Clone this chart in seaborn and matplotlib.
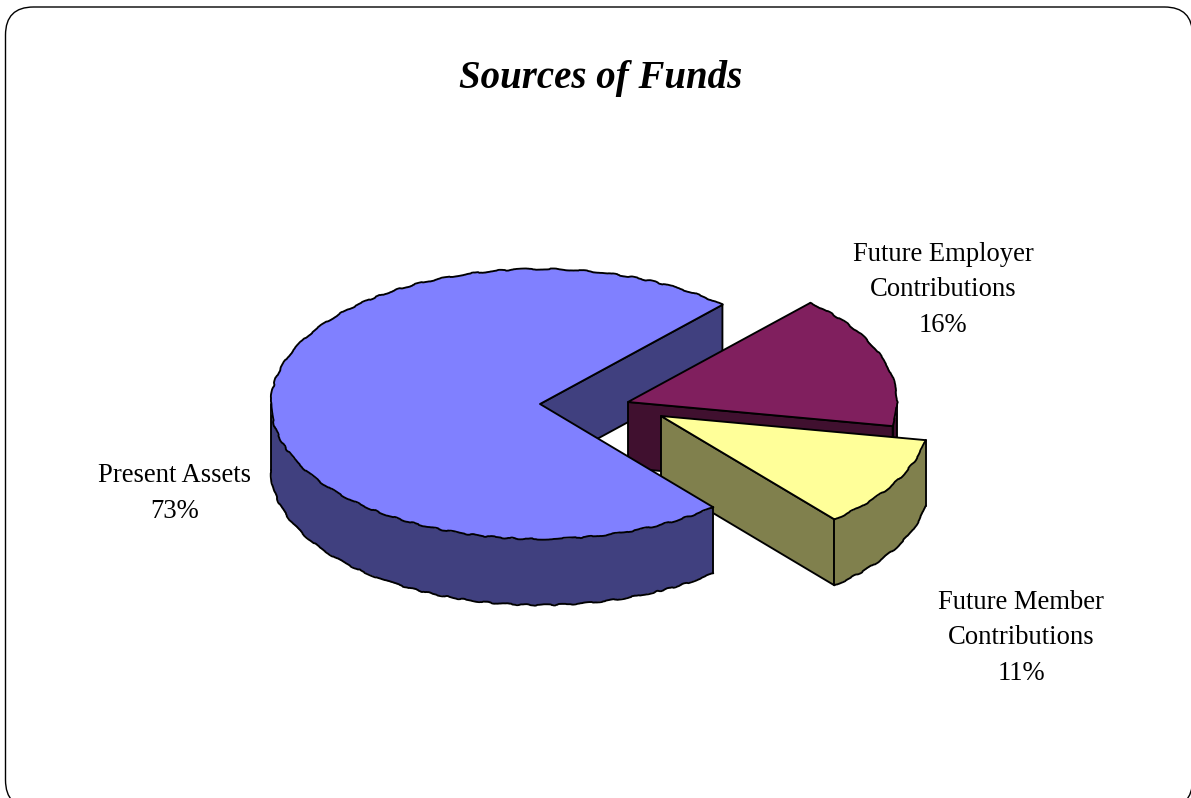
import numpy as np
import matplotlib
matplotlib.use("Agg")
import matplotlib.pyplot as plt
from matplotlib.patches import FancyBboxPatch
import seaborn as sns

# Funding shares, in percent, listed clockwise from the upper right
categories = ["Future Employer\nContributions", "Future Member\nContributions", "Present Assets"]
shares = [16, 11, 73]
title_text = "Sources of Funds"

top_colors = ["#801F5E", "#FFFF99", "#8080FF"]
side_colors = ["#40102F", "#80804D", "#40407F"]

sns.set_theme(style="white")
plt.rcParams["font.family"] = ["Liberation Serif", "DejaVu Serif"]

fig = plt.figure(figsize=(11.91, 7.98), dpi=100)
ax = fig.add_axes([0, 0, 1, 1])
ax.set_xlim(0, 1191)
ax.set_ylim(798, 0)
ax.axis("off")

# Rounded slide frame, running slightly past the right and bottom edges
ax.add_patch(FancyBboxPatch((33.5, 35), 1131, 745, boxstyle="round,pad=28,rounding_size=28",
                            fc="white", ec="black", lw=1.0, zorder=0))

RX, RY, DEPTH = 269, 135, 66
LW = 1.35
START = 47.3
spans = np.array(shares) / sum(shares) * 360
ends = START - np.cumsum(spans)
starts = ends + spans
centers = [(628, 402), (661, 416), (540, 404)]


def rim(cx, cy, t0, t1, drop=0):
    t = np.radians(np.linspace(t0, t1, 160))
    return cx + RX * np.cos(t), cy - RY * np.sin(t) + drop


def rough(x, y, z):
    line, = ax.plot(x, y, color="black", lw=LW, zorder=z, solid_capstyle="round")
    line.set_sketch_params(scale=0.7, length=42, randomness=8)


def cut_face(c, t, color, z):
    px, py = rim(c[0], c[1], t, t, 0)
    fx = [c[0], px[0], px[0], c[0]]
    fy = [c[1], py[0], py[0] + DEPTH, c[1] + DEPTH]
    ax.fill(fx, fy, facecolor=color, edgecolor="black", lw=LW, joinstyle="round", zorder=z)


def outer_wall(c, t0, t1, color, z):
    """Visible curved wall between angles t0 and t1 (lower half of the rim)."""
    xa, ya = rim(c[0], c[1], t0, t1)
    xb, yb = rim(c[0], c[1], t0, t1, DEPTH)
    ax.fill(np.r_[xa, xb[::-1]], np.r_[ya, yb[::-1]], facecolor=color, edgecolor="none", zorder=z)
    rough(xb, yb, z + 0.1)
    ax.plot([xa[0], xb[0]], [ya[0], yb[0]], color="black", lw=LW, zorder=z + 0.1)
    ax.plot([xa[-1], xb[-1]], [ya[-1], yb[-1]], color="black", lw=LW, zorder=z + 0.1)


def top_face(c, t0, t1, color, z):
    x, y = rim(c[0], c[1], t0, t1)
    ax.fill(np.r_[c[0], x], np.r_[c[1], y], facecolor=color, edgecolor="none", zorder=z)
    rough(x, y, z + 0.1)
    ax.plot([x[0], c[0], x[-1]], [y[0], c[1], y[-1]], color="black", lw=LW,
            solid_joinstyle="round", zorder=z + 0.1)


emp, mem, ast = 0, 1, 2

# Present Assets: back cut face sits behind the detached slices
cut_face(centers[ast], ends[ast], side_colors[ast], 1)

# Future Employer slice
cut_face(centers[emp], ends[emp], side_colors[emp], 2)
outer_wall(centers[emp], ends[emp], 0, side_colors[emp], 2.2)
top_face(centers[emp], starts[emp], ends[emp], top_colors[emp], 2.5)

# Future Member slice
cut_face(centers[mem], ends[mem], side_colors[mem], 3)
outer_wall(centers[mem], ends[mem], starts[mem], side_colors[mem], 3.2)
top_face(centers[mem], starts[mem], ends[mem], top_colors[mem], 3.5)

# Present Assets: front wall and top go over the corners of the other slices
outer_wall(centers[ast], -180, starts[ast], side_colors[ast], 4)
top_face(centers[ast], starts[ast], ends[ast], top_colors[ast], 4.5)

ax.text(600.5, 78.5, title_text, ha="center", va="center", fontsize=28,
        style="italic", weight="bold", color="black", zorder=6)

label_xy = [(943, 290), (1021, 638), (175, 493.5)]
for name, share, (lx, ly) in zip(categories, shares, label_xy):
    ax.text(lx, ly, f"{name}\n{share}%", ha="center", va="center", fontsize=19.2,
            linespacing=1.55, color="black", zorder=6)

fig.savefig("out.png", dpi=100)
